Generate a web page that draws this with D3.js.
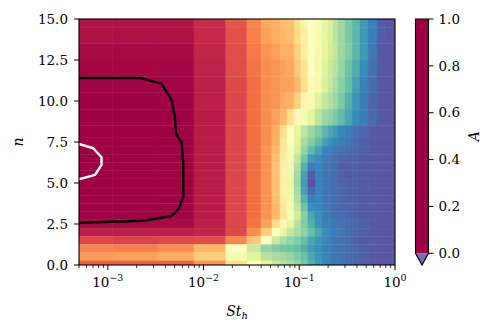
<!DOCTYPE html>
<html>
<head>
<meta charset="utf-8">
<script src="https://cdnjs.cloudflare.com/ajax/libs/d3/7.8.5/d3.min.js"></script>
<style>
  body { margin: 0; background: #fff; }
  .lbl { font-family: "DejaVu Serif"; }
</style>
</head>
<body>
<svg id="chart" width="498" height="331"></svg>
<script>
// cell edges along St_h (left to right)
var stEdges = [5e-4, 1.13e-3, 3.34e-3, 7.94e-3, 0.0171, 0.0284, 0.0398, 0.0518, 0.0629, 0.0743,
               0.0881, 0.104, 0.123, 0.146, 0.173, 0.200, 0.225, 0.254, 0.300, 0.356,
               0.431, 0.523, 0.649, 0.805, 1.0];
// cell edges along n (top to bottom), rows are centred on nRows
var nEdges = [15, 14.5, 13.5, 12.5, 11.5, 10.5, 9.5, 8.5, 7.75, 7.25, 6.75, 6.25, 5.75, 5.25,
              4.75, 4.25, 3.75, 3.25, 2.75, 2.25, 1.75, 1.25, 0.75, 0.25, 0];
var nRows = [15, 14, 13, 12, 11, 10, 9, 8, 7.5, 7, 6.5, 6, 5.5, 5, 4.5, 4, 3.5, 3, 2.5, 2, 1.5, 1, 0.5, 0];

// A for every cell, one row per entry of nRows
var aValues = [
  [0.965,0.965,0.965,0.93,0.85,0.76,0.71,0.69,0.67,0.66,0.60,0.54,0.50,0.46,0.42,0.38,0.33,0.28,0.23,0.18,0.13,0.09,0.03,0.01],
  [0.975,0.975,0.975,0.935,0.86,0.77,0.72,0.70,0.68,0.67,0.61,0.55,0.50,0.46,0.42,0.38,0.33,0.28,0.23,0.18,0.13,0.08,0.03,0.01],
  [0.985,0.985,0.985,0.94,0.865,0.78,0.74,0.72,0.70,0.70,0.63,0.56,0.50,0.46,0.41,0.37,0.34,0.28,0.24,0.18,0.13,0.07,0.02,0.01],
  [0.99,0.99,0.99,0.945,0.87,0.79,0.75,0.74,0.72,0.71,0.65,0.59,0.50,0.45,0.39,0.35,0.32,0.27,0.21,0.16,0.11,0.06,0.02,0.01],
  [0.995,0.995,0.994,0.95,0.875,0.80,0.75,0.74,0.72,0.72,0.68,0.60,0.52,0.45,0.38,0.34,0.30,0.25,0.20,0.14,0.09,0.05,0.02,0.01],
  [0.998,0.998,0.997,0.95,0.88,0.80,0.75,0.74,0.71,0.69,0.63,0.53,0.47,0.39,0.34,0.31,0.28,0.23,0.17,0.12,0.08,0.04,0.02,0.01],
  [0.999,0.999,0.998,0.955,0.88,0.80,0.75,0.72,0.68,0.60,0.52,0.46,0.40,0.33,0.28,0.26,0.23,0.19,0.15,0.11,0.08,0.05,0.02,0.01],
  [0.999,0.999,0.998,0.955,0.88,0.80,0.75,0.70,0.60,0.50,0.41,0.33,0.28,0.23,0.18,0.15,0.13,0.10,0.08,0.06,0.04,0.02,0.01,0.01],
  [0.999,0.999,0.997,0.955,0.88,0.80,0.75,0.69,0.58,0.49,0.40,0.30,0.24,0.19,0.14,0.11,0.10,0.08,0.07,0.05,0.03,0.02,0.01,0.01],
  [1.0,0.999,0.997,0.955,0.88,0.80,0.74,0.68,0.57,0.48,0.38,0.27,0.19,0.14,0.10,0.08,0.07,0.06,0.05,0.04,0.03,0.02,0.01,0.01],
  [1.0,0.999,0.997,0.955,0.88,0.80,0.74,0.67,0.56,0.46,0.34,0.22,0.13,0.11,0.08,0.07,0.06,0.04,0.03,0.03,0.02,0.02,0.01,0.01],
  [1.0,0.999,0.997,0.955,0.88,0.80,0.74,0.66,0.55,0.45,0.31,0.17,0.08,0.10,0.07,0.06,0.05,0.02,0.03,0.03,0.02,0.02,0.01,0.01],
  [1.0,0.999,0.997,0.955,0.88,0.80,0.74,0.66,0.55,0.44,0.29,0.14,0.02,0.09,0.07,0.06,0.05,0.03,0.02,0.03,0.02,0.02,0.01,0.01],
  [0.999,0.999,0.997,0.955,0.88,0.80,0.74,0.66,0.55,0.43,0.28,0.13,0.00,0.09,0.07,0.06,0.05,0.04,0.03,0.03,0.02,0.02,0.01,0.01],
  [0.999,0.999,0.997,0.955,0.88,0.80,0.74,0.66,0.55,0.44,0.29,0.14,0.04,0.09,0.07,0.06,0.05,0.04,0.03,0.03,0.02,0.02,0.01,0.01],
  [0.999,0.998,0.996,0.955,0.88,0.80,0.74,0.67,0.56,0.45,0.31,0.17,0.08,0.10,0.07,0.06,0.05,0.04,0.03,0.03,0.02,0.02,0.01,0.01],
  [0.998,0.998,0.996,0.955,0.88,0.80,0.74,0.68,0.57,0.47,0.34,0.21,0.11,0.10,0.08,0.06,0.05,0.04,0.03,0.03,0.02,0.02,0.01,0.01],
  [0.996,0.996,0.995,0.955,0.88,0.80,0.74,0.68,0.58,0.48,0.37,0.25,0.15,0.11,0.08,0.07,0.06,0.05,0.04,0.03,0.02,0.02,0.01,0.01],
  [0.985,0.985,0.985,0.95,0.88,0.79,0.72,0.60,0.52,0.42,0.32,0.24,0.17,0.12,0.09,0.08,0.07,0.06,0.05,0.04,0.03,0.02,0.01,0.01],
  [0.95,0.95,0.95,0.94,0.88,0.75,0.64,0.50,0.41,0.35,0.30,0.26,0.20,0.15,0.11,0.09,0.08,0.07,0.05,0.04,0.03,0.02,0.01,0.01],
  [0.88,0.89,0.88,0.87,0.76,0.65,0.50,0.36,0.30,0.27,0.24,0.20,0.15,0.12,0.10,0.08,0.07,0.06,0.05,0.03,0.02,0.02,0.01,0.01],
  [0.76,0.77,0.75,0.68,0.50,0.35,0.27,0.24,0.22,0.21,0.20,0.17,0.13,0.11,0.09,0.08,0.07,0.06,0.05,0.04,0.03,0.02,0.01,0.01],
  [0.73,0.72,0.70,0.64,0.46,0.39,0.32,0.30,0.29,0.27,0.24,0.20,0.15,0.12,0.10,0.08,0.07,0.06,0.05,0.04,0.03,0.02,0.01,0.01],
  [0.83,0.83,0.82,0.74,0.60,0.50,0.40,0.35,0.32,0.30,0.27,0.22,0.17,0.13,0.10,0.08,0.07,0.06,0.05,0.04,0.03,0.02,0.01,0.01]
];

// contour lines, [St_h, n]
var blackContour = [[5e-4,11.4],[2.25e-3,11.4],[3.65e-3,11.04],[4.64e-3,10.06],[5.02e-3,9.04],[5.15e-3,8.03],
                    [5.24e-3,7.93],[5.9e-3,7.46],[6.14e-3,6.2],[6.14e-3,4.16],[5.57e-3,3.46],[4.64e-3,2.99],
                    [2.34e-3,2.7],[5e-4,2.58]];
var whiteContour = [[5e-4,7.38],[7.03e-4,7.12],[8.6e-4,6.57],[8.6e-4,6.1],[7.33e-4,5.49],[5e-4,5.23]];

var xMajor = [1e-3, 1e-2, 1e-1, 1];
var xMajorExp = ["\u22123", "\u22122", "\u22121", "0"];
var yTicks = [0, 2.5, 5, 7.5, 10, 12.5, 15];
var cbTicks = [0, 0.2, 0.4, 0.6, 0.8, 1.0];

var svg = d3.select("#chart");
var L = 79, R = 395, T = 19, B = 265;

var x = d3.scaleLog().domain([5e-4, 1]).range([L, R]);
var y = d3.scaleLinear().domain([0, 15]).range([B, T]);

// Spectral_r: A=1 -> dark red, A=0 -> purple
var color = d3.scaleLinear()
    .domain(d3.range(11).map(function (i) { return 1 - i / 10; }))
    .range(d3.schemeSpectral[11])
    .clamp(true);

svg.append("clipPath").attr("id", "plotclip")
  .append("rect").attr("x", L).attr("y", T).attr("width", R - L).attr("height", B - T);

var cells = [];
aValues.forEach(function (row, r) {
  row.forEach(function (a, c) { cells.push({r: r, c: c, a: a}); });
});

var plot = svg.append("g").attr("clip-path", "url(#plotclip)");
plot.selectAll("rect.cell").data(cells).enter().append("rect")
  .attr("class", "cell")
  .attr("x", function (d) { return x(stEdges[d.c]); })
  .attr("y", function (d) { return y(nEdges[d.r]); })
  .attr("width", function (d) { return x(stEdges[d.c + 1]) - x(stEdges[d.c]); })
  .attr("height", function (d) { return y(nEdges[d.r + 1]) - y(nEdges[d.r]); })
  .attr("fill", function (d) { return color(d.a); })
  .attr("stroke", function (d) { return color(d.a); })
  .attr("stroke-width", 0.35);

var line = d3.line().x(function (d) { return x(d[0]); }).y(function (d) { return y(d[1]); });
plot.append("path").attr("d", line(blackContour)).attr("fill", "none")
  .attr("stroke", "#000").attr("stroke-width", 2.4).attr("stroke-linejoin", "round");
plot.append("path").attr("d", line(whiteContour)).attr("fill", "none")
  .attr("stroke", "#fff").attr("stroke-width", 2.4).attr("stroke-linejoin", "round");

// frame
svg.append("rect").attr("x", L).attr("y", T).attr("width", R - L).attr("height", B - T)
  .attr("fill", "none").attr("stroke", "#000").attr("stroke-width", 1.1);

// only DejaVu Serif is picked up as a serif face here
function label(sel) {
  return sel.attr("class", "lbl").attr("font-size", 13.5).attr("fill", "#000");
}

// x axis ticks
var xMinor = [];
[1e-4, 1e-3, 1e-2, 1e-1].forEach(function (dec) {
  for (var k = 2; k <= 9; k++) {
    var v = dec * k;
    if (v >= 5e-4 && v <= 1) xMinor.push(v);
  }
});
svg.selectAll("line.xminor").data(xMinor).enter().append("line")
  .attr("x1", function (d) { return x(d); }).attr("x2", function (d) { return x(d); })
  .attr("y1", B).attr("y2", B + 3).attr("stroke", "#000").attr("stroke-width", 0.8);
svg.selectAll("line.xmajor").data(xMajor).enter().append("line")
  .attr("x1", function (d) { return x(d); }).attr("x2", function (d) { return x(d); })
  .attr("y1", B).attr("y2", B + 5).attr("stroke", "#000").attr("stroke-width", 1);
var xl = label(svg.selectAll("text.xlab").data(xMajor).enter().append("text"))
  .attr("x", function (d) { return x(d); }).attr("y", 287)
  .attr("text-anchor", "middle");
xl.append("tspan").text("10");
xl.append("tspan").attr("dy", -6).attr("font-size", 9.5)
  .text(function (d, i) { return xMajorExp[i]; });

// y axis ticks
svg.selectAll("line.ytick").data(yTicks).enter().append("line")
  .attr("x1", L - 5).attr("x2", L)
  .attr("y1", function (d) { return y(d); }).attr("y2", function (d) { return y(d); })
  .attr("stroke", "#000").attr("stroke-width", 1);
label(svg.selectAll("text.ylab").data(yTicks).enter().append("text"))
  .attr("x", L - 11).attr("y", function (d) { return y(d); })
  .attr("dy", "0.35em").attr("text-anchor", "end")
  .text(function (d) { return d.toFixed(1); });

// axis labels
var xt = label(svg.append("text")).attr("x", (L + R) / 2).attr("y", 316)
  .attr("text-anchor", "middle").attr("font-style", "italic").attr("font-size", 14);
xt.append("tspan").text("St");
xt.append("tspan").attr("dy", 3).attr("font-size", 10).text("h");

label(svg.append("text")).attr("transform", "translate(23," + ((T + B) / 2) + ") rotate(-90)")
  .attr("text-anchor", "middle").attr("font-style", "italic").attr("font-size", 14).text("n");

// colorbar
var cbL = 415.5, cbW = 13;
var cbTop = T, cbBot = 253.3, cbTip = B;
var cy = d3.scaleLinear().domain([0, 1]).range([cbBot, cbTop]);

var grad = svg.append("defs").append("linearGradient").attr("id", "cbgrad")
  .attr("x1", 0).attr("y1", 1).attr("x2", 0).attr("y2", 0);
grad.selectAll("stop").data(color.domain()).enter().append("stop")
  .attr("offset", function (d) { return d; })
  .attr("stop-color", function (d) { return color(d); });

svg.append("rect").attr("x", cbL).attr("y", cy(1)).attr("width", cbW).attr("height", cy(0) - cy(1))
  .attr("fill", "url(#cbgrad)");
svg.append("path")
  .attr("d", "M" + cbL + "," + cy(0) + "L" + (cbL + cbW) + "," + cy(0) + "L" + (cbL + cbW / 2) + "," + cbTip + "Z")
  .attr("fill", "#7a6bb6");
svg.append("path")
  .attr("d", "M" + cbL + "," + cy(1) + "L" + (cbL + cbW) + "," + cy(1) + "L" + (cbL + cbW) + "," + cy(0) +
             "L" + (cbL + cbW / 2) + "," + cbTip + "L" + cbL + "," + cy(0) + "Z")
  .attr("fill", "none").attr("stroke", "#000").attr("stroke-width", 1.1);

svg.selectAll("line.cbtick").data(cbTicks).enter().append("line")
  .attr("x1", cbL + cbW).attr("x2", cbL + cbW + 5)
  .attr("y1", function (d) { return cy(d); }).attr("y2", function (d) { return cy(d); })
  .attr("stroke", "#000").attr("stroke-width", 1);
label(svg.selectAll("text.cblab").data(cbTicks).enter().append("text"))
  .attr("x", cbL + cbW + 10).attr("y", function (d) { return cy(d); })
  .attr("dy", "0.35em")
  .text(function (d) { return d.toFixed(1); });

label(svg.append("text")).attr("transform", "translate(479," + ((cbTop + cbBot) / 2) + ") rotate(-90)")
  .attr("text-anchor", "middle").attr("font-style", "italic").attr("font-size", 14).text("A");
</script>
</body>
</html>
